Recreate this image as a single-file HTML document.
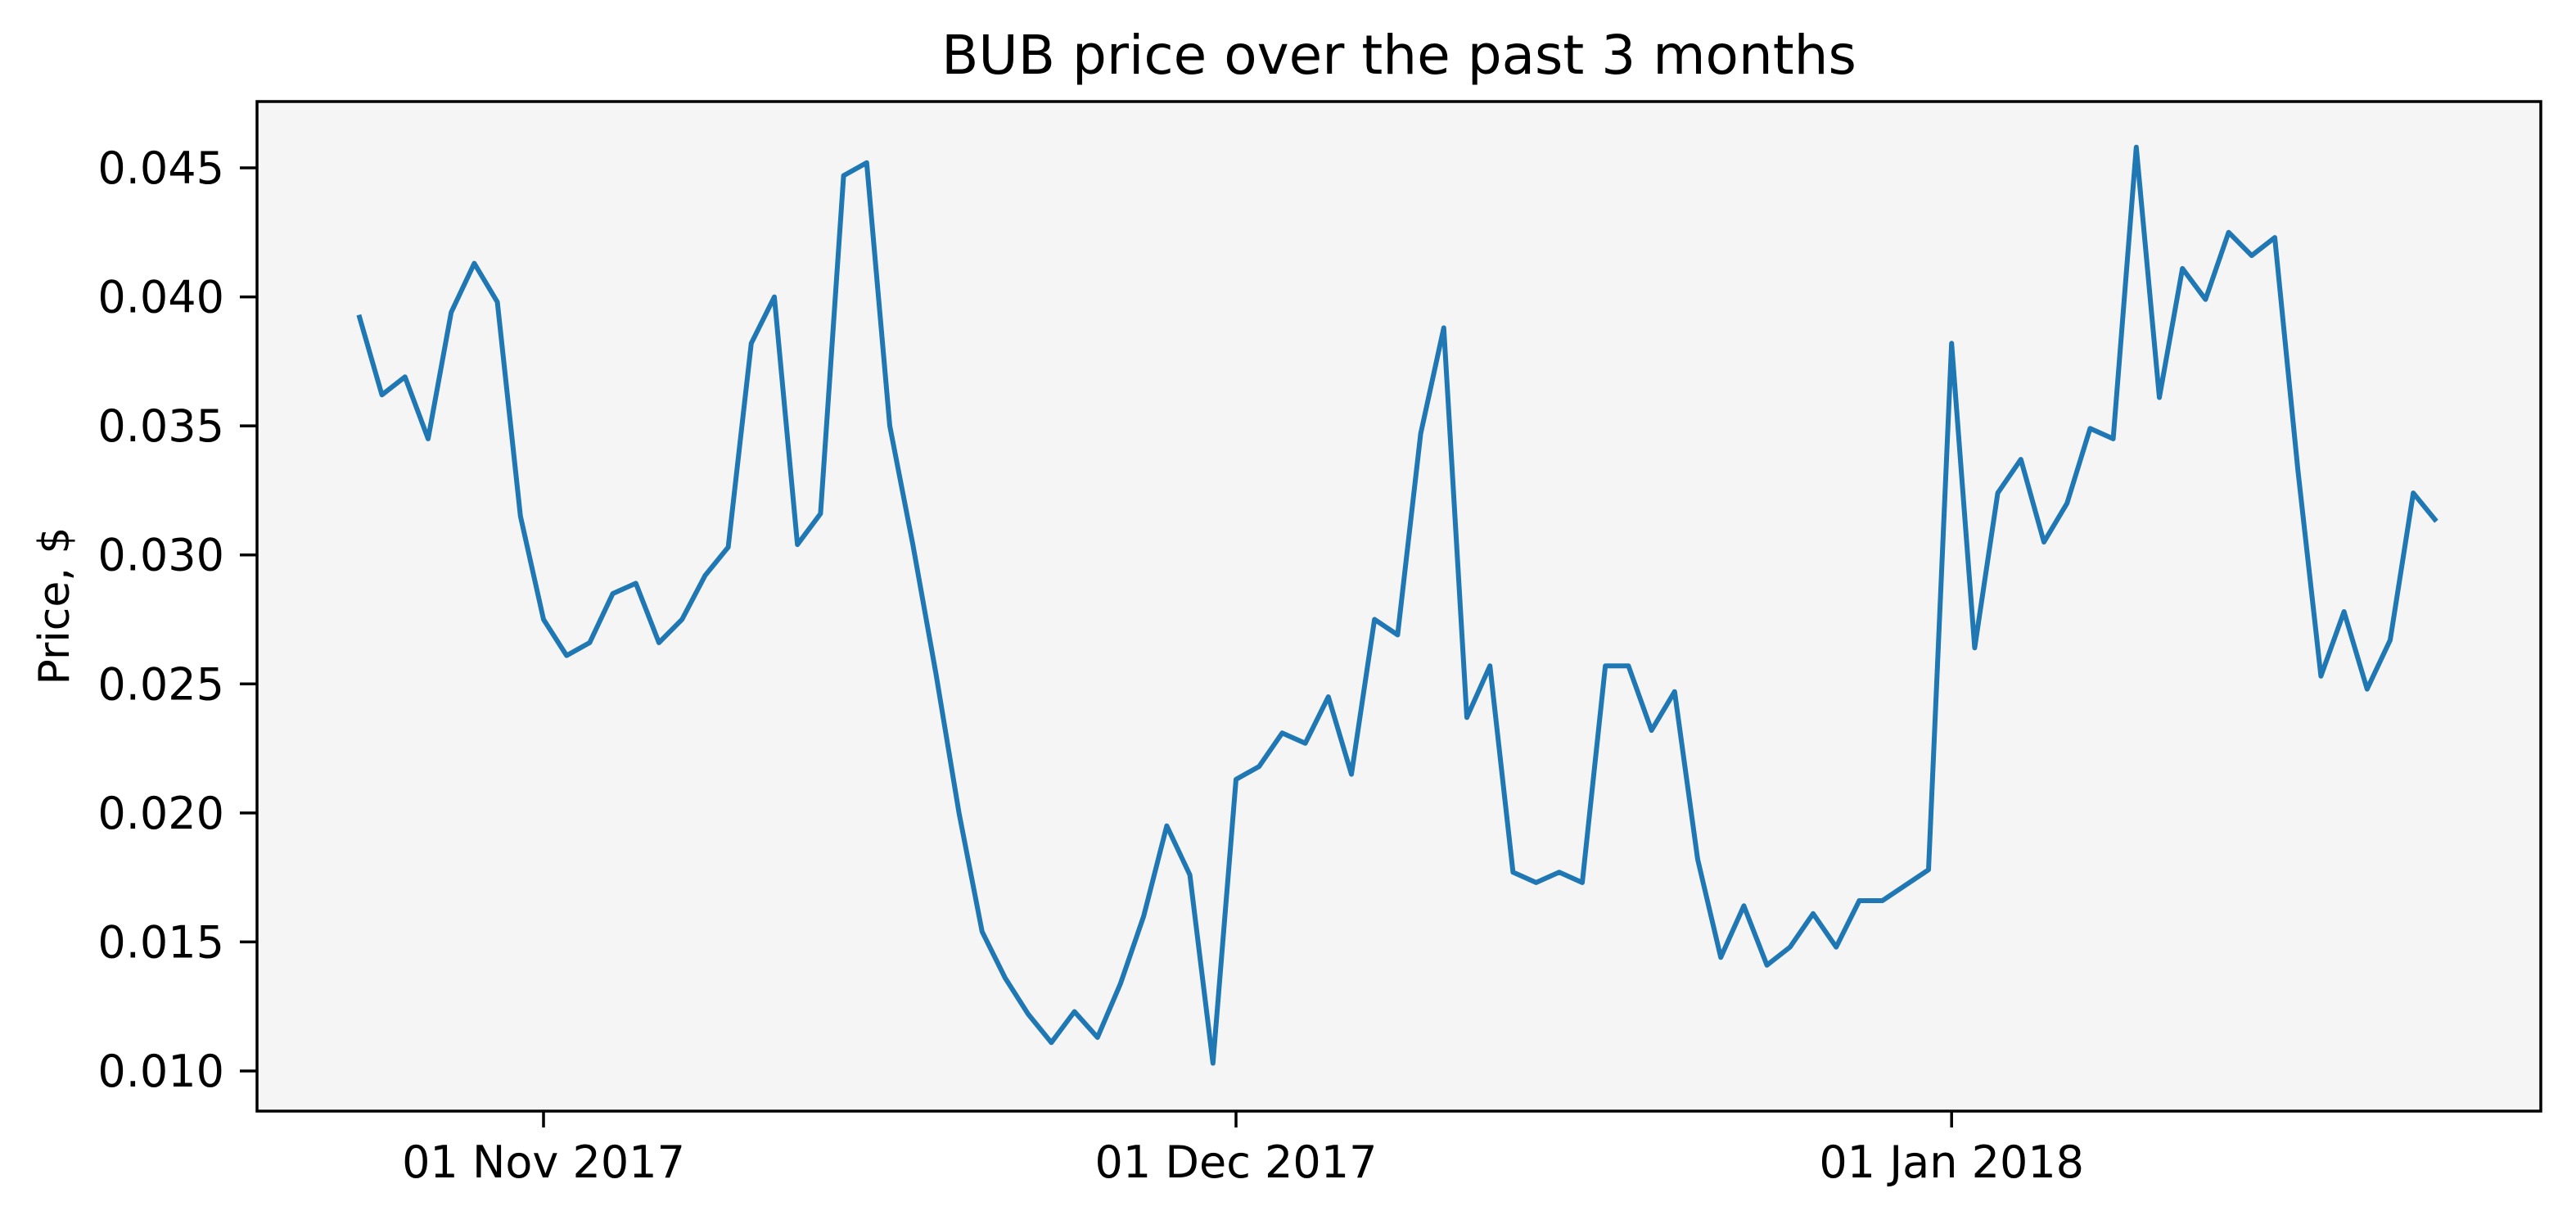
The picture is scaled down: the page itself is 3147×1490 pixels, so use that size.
<!DOCTYPE html>
<html><head><meta charset="utf-8"><style>
html,body{margin:0;padding:0;background:#fff}
svg{display:block}
text{font-family:"DejaVu Sans","Liberation Sans",sans-serif;fill:#000}
</style></head><body>
<svg id="chart" width="3147" height="1490" viewBox="0 0 3147 1490" xmlns="http://www.w3.org/2000/svg">
<rect x="0" y="0" width="3147" height="1490" fill="#fff"/>
<text x="1709" y="90" font-size="66" text-anchor="middle">BUB price over the past 3 months</text>
<rect x="314" y="124" width="2790" height="1233" fill="#f5f5f5"/>
<g id="yticks"></g>
<g id="xticks"></g>
<path id="line" fill="none" stroke="#1f77b4" stroke-width="6" stroke-linejoin="round"/>
<rect x="314" y="124" width="2790" height="1233" fill="none" stroke="#000" stroke-width="3.5"/>
<text x="0" y="0" font-size="52" text-anchor="middle" transform="translate(84,740) rotate(-90)">Price, $</text>
</svg>
<script>
const startDate = "2017-10-24";
const prices = [0.0393,0.0362,0.0369,0.0345,0.0394,0.0413,0.0398,0.0315,0.0275,0.0261,
0.0266,0.0285,0.0289,0.0266,0.0275,0.0292,0.0303,0.0382,0.0400,0.0304,
0.0316,0.0447,0.0452,0.0350,0.0304,0.0254,0.0200,0.0154,0.0136,0.0122,
0.0111,0.0123,0.0113,0.0134,0.0160,0.0195,0.0176,0.0103,0.0213,0.0218,
0.0231,0.0227,0.0245,0.0215,0.0275,0.0269,0.0347,0.0388,0.0237,0.0257,
0.0177,0.0173,0.0177,0.0173,0.0257,0.0257,0.0232,0.0247,0.0182,0.0144,
0.0164,0.0141,0.0148,0.0161,0.0148,0.0166,0.0166,0.0172,0.0178,0.0382,
0.0264,0.0324,0.0337,0.0305,0.0320,0.0349,0.0345,0.0458,0.0361,0.0411,
0.0399,0.0425,0.0416,0.0423,0.0333,0.0253,0.0278,0.0248,0.0267,0.0324,0.0313];
const yTicks = [0.010,0.015,0.020,0.025,0.030,0.035,0.040,0.045];
const yTickLabels = ["0.010","0.015","0.020","0.025","0.030","0.035","0.040","0.045"];
const xTickDates = ["2017-11-01","2017-12-01","2018-01-01"];
const xTickLabels = ["01 Nov 2017","01 Dec 2017","01 Jan 2018"];

const NS="http://www.w3.org/2000/svg";
const DAY=86400000;
const t0=Date.parse(startDate);
function xScale(ms){ const d=(ms-Date.parse("2017-12-01"))/DAY; return 1510+d*28.2; }
function yScale(v){ return 1308-(v-0.010)*(1103/0.035); }

const yg=document.getElementById('yticks');
yTicks.forEach((v,i)=>{
  const y=yScale(v);
  const l=document.createElementNS(NS,'line');
  l.setAttribute('x1',293);l.setAttribute('x2',314);l.setAttribute('y1',y);l.setAttribute('y2',y);
  l.setAttribute('stroke','#000');l.setAttribute('stroke-width',3.5);
  
  
  yg.appendChild(l);
  const t=document.createElementNS(NS,'text');
  t.setAttribute('x',274);t.setAttribute('y',y+19);t.setAttribute('font-size',54);t.setAttribute('text-anchor','end');
  t.textContent=yTickLabels[i];
  
  
  yg.appendChild(t);
});
const xg=document.getElementById('xticks');
xTickDates.forEach((d,i)=>{
  const x=xScale(Date.parse(d));
  const l=document.createElementNS(NS,'line');
  l.setAttribute('x1',x);l.setAttribute('x2',x);l.setAttribute('y1',1357);l.setAttribute('y2',1377);
  l.setAttribute('stroke','#000');l.setAttribute('stroke-width',3.5);
  
  
  xg.appendChild(l);
  const t=document.createElementNS(NS,'text');
  t.setAttribute('x',x);t.setAttribute('y',1438);t.setAttribute('font-size',54);t.setAttribute('text-anchor','middle');
  t.textContent=xTickLabels[i];
  
  
  xg.appendChild(t);
});
let d="";
prices.forEach((v,i)=>{
  const x=xScale(t0+i*DAY), y=yScale(v);
  d+=(i?"L":"M")+x.toFixed(1)+","+y.toFixed(1);
});
document.getElementById('line').setAttribute('d',d);
</script>
</body></html>
